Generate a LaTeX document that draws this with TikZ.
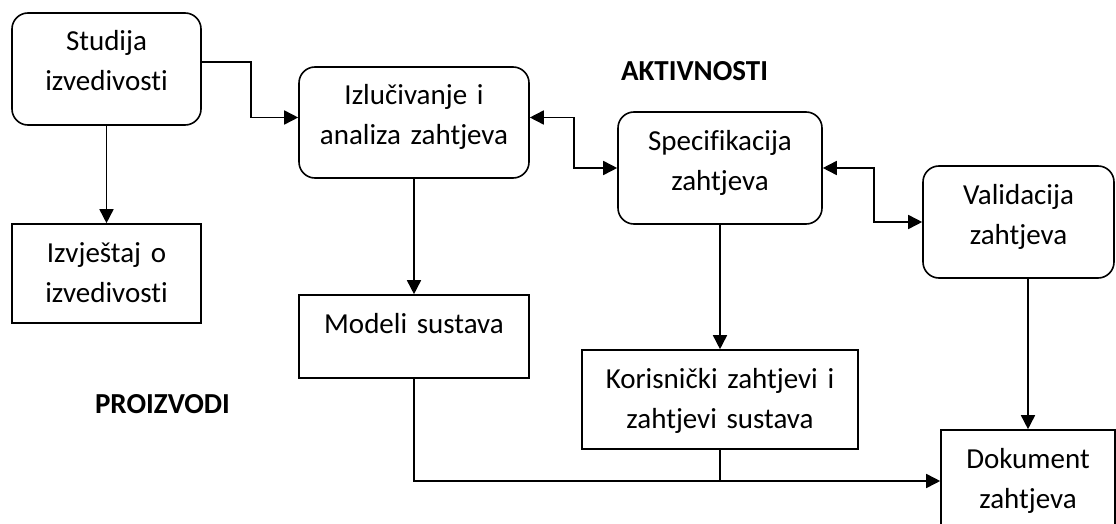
\documentclass[tikz,border=0pt]{standalone}
\usepackage{fontspec}
\setmainfont{Carlito}[Ligatures={NoCommon,NoContextual}]
\usetikzlibrary{arrows.meta}

\begin{document}
\begin{tikzpicture}[x=1pt, y=-1pt, line width=1.6pt, >={Triangle[length=14pt,width=14pt]},
    box/.style={shape=rectangle, draw=black, inner sep=0pt, align=center, font=\fontsize{29}{40}\selectfont, text height=38pt},
    activity/.style={box, rounded corners=16pt},
    product/.style={box}]
    \clip (0,0) rectangle (1116,524);
    \node[activity, text width=189pt, text depth=74pt] (A) at (106.5,69) {Studija\\izvedivosti};
    \node[product, text width=189pt, text depth=61pt] (B) at (106.5,273.5) {Izvještaj o\\izvedivosti};
    \node[activity, text width=230pt, text depth=73pt] (C) at (414,122.5) {Izlučivanje i\\analiza zahtjeva};
    \node[product, text width=230pt, text depth=45pt] (D) at (414,336.5) {Modeli sustava};
    \node[activity, text width=204pt, text depth=74pt] (E) at (720,168) {Specifikacija\\zahtjeva};
    \node[product, text width=276pt, text depth=61pt] (F) at (720,399.5) {Korisnički zahtjevi i\\zahtjevi sustava};
    \node[activity, text width=191pt, text depth=74pt] (G) at (1018.5,222) {Validacija\\zahtjeva};
    \node[product, text width=174pt, text depth=64pt] (H) at (1028,481) {Dokument\\zahtjeva};

    \node[font=\fontsize{29}{40}\selectfont\bfseries, anchor=base] (I) at (694.5,81) {AKTIVNOSTI};
    \node[font=\fontsize{29}{40}\selectfont\bfseries, anchor=base] (J) at (162.5,413) {PROIZVODI};

    \path [->] (A) edge (B);
    \path [->] (C) edge (D);
    \path [->] (E) edge (F);
    \draw [->] (H.north |- G.south) -- (H.north);
    \draw [->] ([yshift=7pt]A.east) -- ++(49,0) |- ([yshift=5pt]C.west);
    \draw [<->] ([yshift=5pt]C.east) -- ++(44,0) |- (E.west);
    \draw [<->] (E.east) -- ++(51,0) |- (G.west);
    \draw [->] (D.south) |- (H.west);
    \draw (F.south) -- (F.south |- H.west);
\end{tikzpicture}
\end{document}
